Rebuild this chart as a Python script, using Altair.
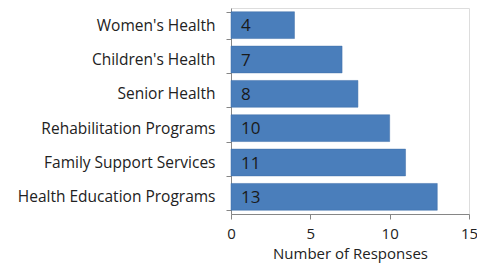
import altair as alt
import pandas as pd

categories = ["Women's Health", "Children's Health", "Senior Health",
              "Rehabilitation Programs", "Family Support Services", "Health Education Programs"]
values = [4, 7, 8, 10, 11, 13]

df = pd.DataFrame({"cat": categories, "val": values})

FONT = "Open Sans"
FS = 15.5

y = alt.Y("cat:N", sort=categories, title=None,
          scale=alt.Scale(paddingInner=0.22, paddingOuter=0.11),
          axis=alt.Axis(labelFontSize=FS, labelFont=FONT, labelColor="#222",
                        labelPadding=11, tickBand="extent", tickSize=5,
                        tickColor="#868686", domainColor="#868686", labelLimit=400))
x = alt.X("val:Q", title="Number of Responses",
          scale=alt.Scale(domain=[0, 15], nice=False),
          axis=alt.Axis(values=[0, 5, 10, 15], grid=False, labelFontSize=15, labelFont=FONT,
                        labelColor="#222", labelFlush=False, titleFont=FONT, titleFontSize=15,
                        titleFontWeight="normal", titleColor="#222", tickSize=5,
                        tickColor="#868686", domainColor="#868686", labelPadding=7, titlePadding=5))

bars = alt.Chart(df).mark_bar(color="#4A7EBB", stroke="#3F6FA8", strokeWidth=0.5).encode(x=x, y=y)
text = alt.Chart(df).mark_text(align="left", baseline="middle", dx=10, dy=1, fontSize=17,
                               font=FONT, color="#1a1a1a").encode(
    x=alt.datum(0), y=alt.Y("cat:N", sort=categories), text="val:Q")

chart = (bars + text).properties(
    width=238, height=206,
    autosize=alt.AutoSizeParams(type="none"),
    padding={"left": 223, "top": 0, "right": 8, "bottom": 52},
).configure_view(stroke=None).configure(background="white")

chart.save("out.html", embed_options={"renderer": "svg", "actions": False})
